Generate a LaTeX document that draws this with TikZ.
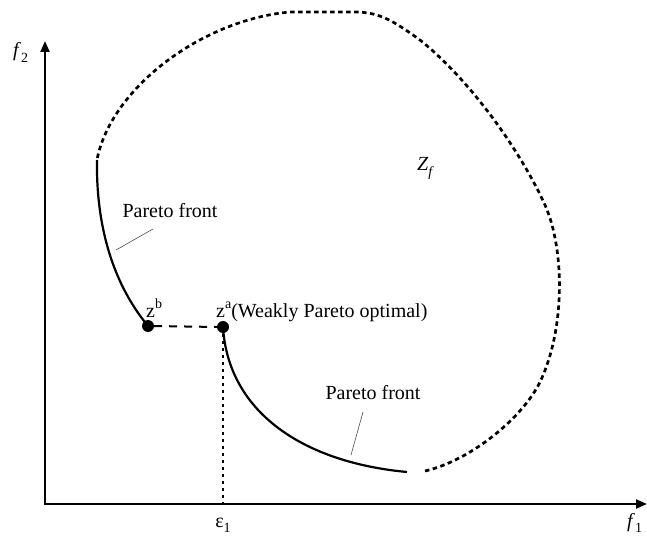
\documentclass[tikz,border=0pt]{standalone}
\usepackage{fontspec}
\setmainfont{Liberation Serif}
\usetikzlibrary{arrows.meta}
\newcommand{\mysup}[1]{\raisebox{0.42em}{\fontsize{14}{16}\selectfont #1}}
\newcommand{\mysub}[1]{\raisebox{-0.28em}{\fontsize{14}{16}\selectfont #1}}
\begin{document}
\begin{tikzpicture}[x=1pt,y=-1pt]
\tikzset{
 lbl/.style={font=\fontsize{20}{24}\selectfont, inner sep=0pt},
 axis/.style={line width=2.2pt, -{Triangle[length=11pt,width=9pt]}},
 front/.style={line width=2.2pt},
 bound/.style={line width=2.7pt, dash pattern=on 4.5pt off 3.5pt},
 dotline/.style={line width=2.4pt, dash pattern=on 3pt off 4pt},
 dashline/.style={line width=2pt, dash pattern=on 8pt off 7pt},
 leader/.style={line width=0.6pt, black!70},
 pt/.style={circle, fill=black, inner sep=0pt, minimum size=12pt},
}
\clip (0,0) rectangle (647,537);
\fill[white] (0,0) rectangle (647,537);
% axes
\coordinate (O) at (45,504);
\coordinate (Ytip) at (45,41);
\coordinate (Xtip) at (647,504);
\draw[axis, shorten <=-1.1pt] (O) -- (Ytip);
\draw[axis, shorten <=-1.1pt] (O) -- (Xtip);
% points
\node[pt] (zb) at (148,326) {};
\node[pt] (za) at (223,327) {};
\coordinate (e1) at (223,504);
\draw[dotline] (za.center) -- (e1);
\draw[dashline] (zb.east) -- (za.west);
% Pareto fronts
\coordinate (L0) at (97,160);
\coordinate (R1) at (407,472);
\draw[front] (L0) .. controls (96,220) and (110,280) .. (zb.center);
\draw[front] (za.center) .. controls (228,410) and (300,462) .. (R1);
% boundary of Z_f
\coordinate (B0) at (425,471);
\draw[bound] (B0) .. controls (472,460) and (523,417) .. (540,382)
  .. controls (565,330) and (565,250) .. (545,205)
  .. controls (520,150) and (470,80) .. (420,40)
  .. controls (395,22) and (380,12) .. (355,12)
  -- (290,12)
  .. controls (200,20) and (110,90) .. (L0);
% labels
\node[lbl, anchor=base] (pf1) at (170,218) {Pareto front};
\node[lbl, anchor=base] (pf2) at (373,399) {Pareto front};
\coordinate (a1) at (116,250); \coordinate (a2) at (153,229);
\coordinate (b1) at (363,412); \coordinate (b2) at (351,455);
\draw[leader] (a1) -- (a2);
\draw[leader] (b1) -- (b2);
\node[lbl, anchor=base west] (lzb) at (146,317) {z\mysup{b}};
\node[lbl, anchor=base west] (lza) at (216,317) {z\mysup{a}(Weakly Pareto optimal)};
\node[lbl, anchor=base] (le) at (223,527) {ε\mysub{1}};
\node[lbl, anchor=base west] (lz) at (417,171) {\textit{Z}\mysub{\textit{f}}};
\node[lbl, anchor=base west] (lf2) at (13,57) {\textit{f}\mysub{2}};
\node[lbl, anchor=base west] (lf1) at (627,527) {\textit{f}\mysub{1}};
\end{tikzpicture}
\end{document}
